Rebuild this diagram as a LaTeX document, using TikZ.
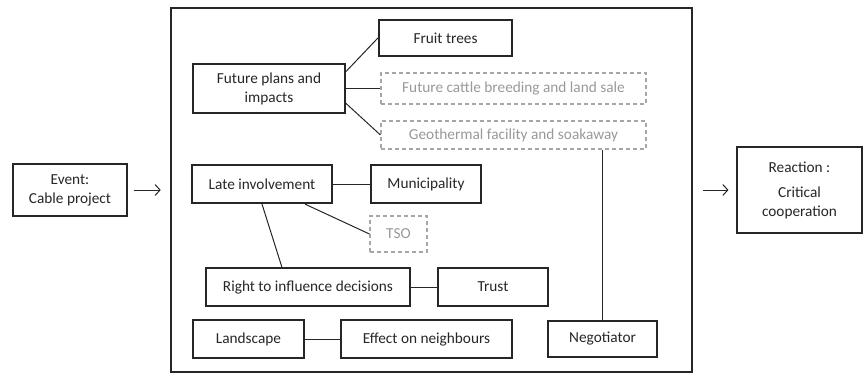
\documentclass[tikz,border=0pt]{standalone}
\usepackage{fontspec}
\setmainfont{Carlito}
\usetikzlibrary{arrows.meta}
\definecolor{dgray}{HTML}{999999}
\definecolor{lgray}{HTML}{A6A6A6}
\definecolor{frame}{HTML}{262626}
\begin{document}
\begin{tikzpicture}[x=1pt,y=-1pt,
  every node/.style={font=\fontsize{15.3}{19}\selectfont, text=black!85},
  box/.style={draw=frame, line width=1.1pt, inner sep=0pt, align=center},
  thickbox/.style={box, line width=2.2pt},
  dashbox/.style={draw=lgray, line width=1.1pt, dash pattern=on 4pt off 3pt, inner sep=0pt, align=center, text=dgray},
  link/.style={draw=frame, line width=1pt},
  flow/.style={draw=frame, line width=1pt, -{Straight Barb[length=5pt,width=11pt]}}
]
\useasboundingbox (0,0) rectangle (865,375);
% outer frame
\node[draw=frame, line width=2.6pt, minimum width=521pt, minimum height=364pt, inner sep=0pt] (big) at (431.5,190) {};
% side boxes
\node[box, minimum width=114pt, minimum height=52pt] (event) at (70,190) {Event:\\Cable project};
\node[box, minimum width=125pt, minimum height=86pt] (reaction) at (799.5,190) {Reaction :\\[6pt]Critical\\cooperation};
% inner nodes
\node[thickbox, minimum width=133pt, minimum height=36pt] (fruit) at (445.5,38) {Fruit trees};
\node[box, minimum width=152pt, minimum height=49pt] (future) at (269,88.5) {Future plans and\\impacts};
\node[dashbox, minimum width=265pt, minimum height=31pt] (cattle) at (513.5,88.5) {Future cattle breeding and land sale};
\node[dashbox, minimum width=265pt, minimum height=28pt] (geo) at (513.5,135) {Geothermal facility and soakaway};
\node[thickbox, minimum width=140pt, minimum height=38pt] (late) at (262,184) {Late involvement};
\node[box, minimum width=110pt, minimum height=38pt] (muni) at (426,184) {Municipality};
\node[dashbox, minimum width=57pt, minimum height=36pt] (tso) at (398.5,234) {TSO};
\node[box, minimum width=204pt, minimum height=38pt] (right) at (308,287) {Right to influence decisions};
\node[box, minimum width=110pt, minimum height=38pt] (trust) at (493,287) {Trust};
\node[thickbox, minimum width=111pt, minimum height=38pt] (land) at (248.5,339) {Landscape};
\node[box, minimum width=171pt, minimum height=38pt] (effect) at (426.5,339) {Effect on neighbours};
\node[box, minimum width=109pt, minimum height=36pt] (nego) at (602.5,339) {Negotiator};
% links
\draw[link] ([yshift=16.5pt]future.east) -- (fruit.west);
\draw[link] (future.east) -- (cattle.west);
\draw[link] ([yshift=-14.5pt]future.east) -- (geo.west);
\draw[link] (late.east) -- (muni.west);
\draw[link] ([xshift=43pt]late.south) -- (tso.west);
\draw[link] (late.south) -- ([xshift=-26pt]right.north);
\draw[link] (right.east) -- (trust.west);
\draw[link] (land.east) -- (effect.west);
\draw[link] (nego.north |- geo.south) -- (nego.north);
% flow arrows
\draw[flow] ([xshift=6pt]event.east) -- ([xshift=-9pt]big.west);
\draw[flow] ([xshift=10pt]big.east) -- ([xshift=-8pt]reaction.west);
\end{tikzpicture}
\end{document}
